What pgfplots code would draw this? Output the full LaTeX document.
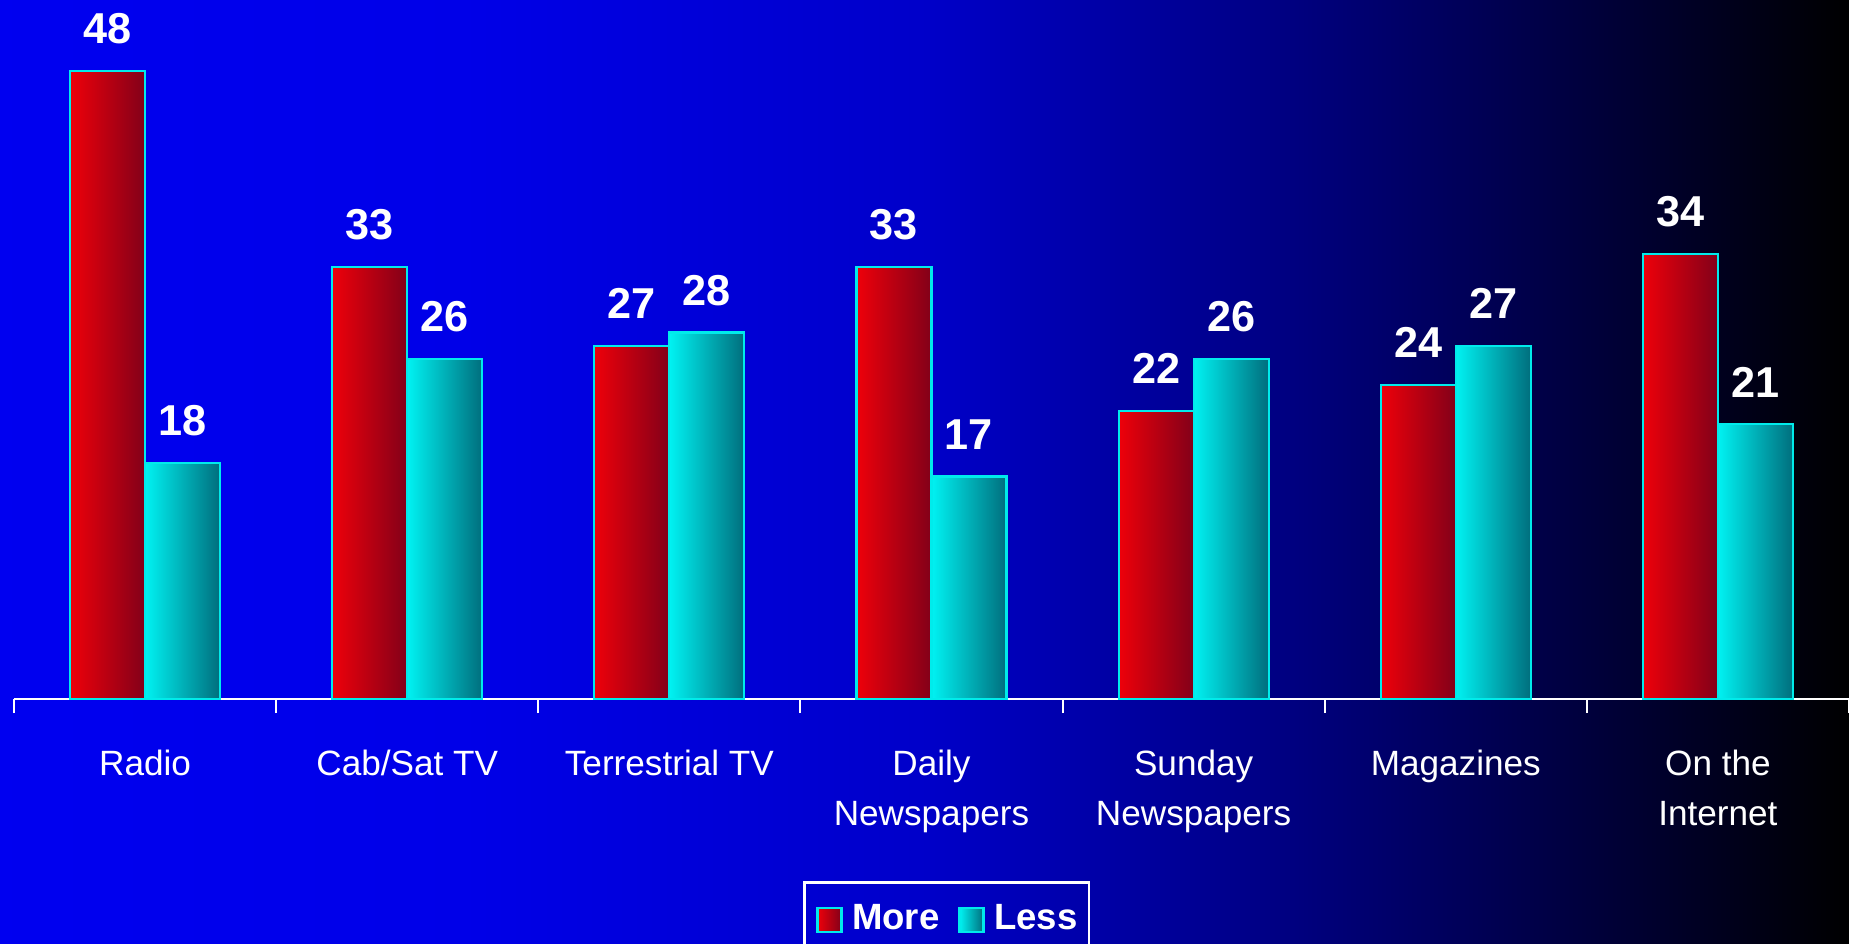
\documentclass[border=0pt]{standalone}
\usepackage{pgfplots}
\pgfplotsset{compat=1.18}
\usepackage{fontspec}
\setmainfont{Liberation Sans}
\pgfdeclarehorizontalshading{bgshade}{100bp}{rgb(0bp)=(0,0,0.94); rgb(25bp)=(0,0,0.94); rgb(37.5bp)=(0,0,0.91); rgb(50bp)=(0,0,0.79); rgb(60bp)=(0,0,0.50); rgb(67.5bp)=(0,0,0.25); rgb(75bp)=(0,0,0); rgb(100bp)=(0,0,0)}
\definecolor{barcyan}{RGB}{0,235,235}
\definecolor{redL}{RGB}{238,0,10}
\definecolor{redR}{RGB}{130,0,25}
\definecolor{cyanL}{RGB}{0,242,242}
\definecolor{cyanR}{RGB}{0,110,125}
\pgfplotsset{
  morebar/.style={draw=barcyan, line width=0.6pt, left color=redL, right color=redR, bar shift=-0.375cm},
  lessbar/.style={draw=barcyan, line width=0.6pt, left color=cyanL, right color=cyanR, bar shift=0.375cm},
}
\begin{document}
\begin{tikzpicture}
\path[use as bounding box] (-0.14,-2.44) rectangle (18.35,6.99);
\shade[shading=bgshade] (-0.14,-2.44) rectangle (18.35,6.99);
\begin{axis}[
  at={(0,0)}, anchor=south west,
  scale only axis, width=18.35cm, height=6.807cm,
  xmin=-0.5, xmax=6.5, ymin=0, ymax=52,
  axis x line*=bottom, axis y line=none,
  x axis line style={white, line width=0.6pt, -},
  xtick={-0.5,0.5,...,6.5},
  x tick label as interval,
  xticklabels={Radio,Cab/Sat TV,Terrestrial TV,Daily\\Newspapers,Sunday\\Newspapers,Magazines,On the\\Internet},
  xticklabel style={align=center, text=white, font=\fontsize{10}{14.2}\selectfont, yshift=-0.25cm},
  tick align=outside, major tick length=0.14cm,
  xtick style={white, line width=0.6pt},
  ybar, bar width=0.75cm,
  /pgf/number format/assume math mode=true,
  nodes near coords,
  every node near coord/.append style={text=white, font=\fontsize{12.3}{14}\selectfont\bfseries, inner sep=0pt, anchor=south, yshift=0.26cm},
  legend style={at={(0.5084,-0.268)}, anchor=north, draw=white, line width=0.6pt, fill=none, text=white,
    font=\fontsize{10.4}{12}\selectfont\bfseries, legend columns=2,
    /tikz/every even column/.append style={column sep=0.19cm}, inner xsep=0.12cm, inner ysep=0.15cm,
    nodes={inner xsep=0pt}},
  legend image code/.code={\draw[#1] (0cm,-0.12cm) rectangle (0.24cm,0.12cm); \path (0.335cm,0cm);},
]
\addplot[morebar] coordinates {(0,48)};
\addplot[lessbar] coordinates {(0,18)};
\addplot[morebar, forget plot] coordinates {(1,33)};
\addplot[lessbar, forget plot] coordinates {(1,26)};
\addplot[morebar, forget plot] coordinates {(2,27)};
\addplot[lessbar, forget plot] coordinates {(2,28)};
\addplot[morebar, forget plot] coordinates {(3,33)};
\addplot[lessbar, forget plot] coordinates {(3,17)};
\addplot[morebar, forget plot] coordinates {(4,22)};
\addplot[lessbar, forget plot] coordinates {(4,26)};
\addplot[morebar, forget plot] coordinates {(5,24)};
\addplot[lessbar, forget plot] coordinates {(5,27)};
\addplot[morebar, forget plot] coordinates {(6,34)};
\addplot[lessbar, forget plot] coordinates {(6,21)};
\legend{More,Less}
\end{axis}
\end{tikzpicture}
\end{document}
